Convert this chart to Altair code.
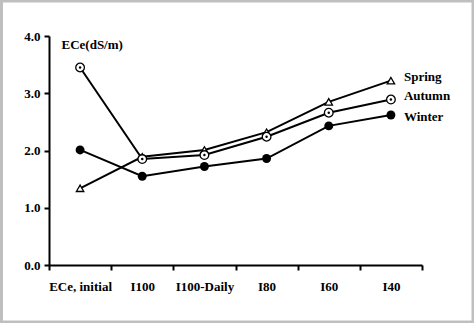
import altair as alt
import pandas as pd

categories = ["ECe, initial", "I100", "I100-Daily", "I80", "I60", "I40"]
spring = [1.34, 1.89, 2.01, 2.32, 2.85, 3.22]
autumn = [3.45, 1.85, 1.92, 2.24, 2.66, 2.89]
winter = [2.01, 1.55, 1.72, 1.86, 2.43, 2.62]
series_names = ["Spring", "Autumn", "Winter"]

rows = []
for name, vals in zip(series_names, [spring, autumn, winter]):
    for c, v in zip(categories, vals):
        rows.append({"cat": c, "val": v, "series": name})
df = pd.DataFrame(rows)

FONT = "Liberation Serif"

x = alt.X("cat:N", sort=categories, title=None,
          scale=alt.Scale(paddingInner=0, paddingOuter=0),
          axis=alt.Axis(tickBand="extent", labelAngle=0, labelFont=FONT, labelFontWeight="bold",
                        labelFontSize=13, labelColor="black", domainColor="black", domainWidth=2,
                        tickColor="black", tickWidth=2, tickSize=5, labelPadding=10))
y = alt.Y("val:Q", scale=alt.Scale(domain=[0, 4]),
          axis=alt.Axis(values=[0, 1, 2, 3, 4], format=".1f", grid=False, title="ECe(dS/m)",
                        titleAngle=0, titleX=12, titleY=2, titleAlign="left", titleBaseline="top",
                        titleFont=FONT, titleFontWeight="bold", titleFontSize=13, titleColor="black",
                        labelFont=FONT, labelFontWeight="bold", labelFontSize=13, labelColor="black",
                        domainColor="black", domainWidth=2, tickColor="black", tickWidth=2,
                        tickSize=5, labelPadding=4))

base = alt.Chart(df)

frame = alt.Chart(pd.DataFrame({"k": [0]})).mark_rect(
    fill=None, stroke="#bfbfbf", strokeWidth=3, clip=False
).encode(x=alt.value(-47.5), x2=alt.value(424), y=alt.value(-35), y2=alt.value(286))

lines = base.mark_line(color="black", strokeWidth=2).encode(x=x, y=y, detail="series:N")

spring_pts = base.transform_filter(alt.datum.series == "Spring").mark_point(
    shape="triangle-up", size=55, filled=True, fill="white", stroke="black", strokeWidth=1.3, opacity=1
).encode(x=x, y=y)
autumn_pts = base.transform_filter(alt.datum.series == "Autumn").mark_point(
    shape="circle", size=75, filled=True, fill="white", stroke="black", strokeWidth=1.3, opacity=1
).encode(x=x, y=y)
autumn_dot = base.transform_filter(alt.datum.series == "Autumn").mark_point(
    shape="circle", size=6, filled=True, color="black", opacity=1
).encode(x=x, y=y)
winter_pts = base.transform_filter(alt.datum.series == "Winter").mark_point(
    shape="circle", size=80, filled=True, color="black", opacity=1
).encode(x=x, y=y)

last = categories[-1]
def label(name, dy):
    return base.transform_filter(
        (alt.datum.series == name) & (alt.datum.cat == last)
    ).mark_text(align="left", dx=13, dy=dy, font=FONT, fontWeight="bold", fontSize=13, color="black").encode(
        x=x, y=y, text="series:N")

chart = alt.layer(
    frame, lines, spring_pts, autumn_pts, autumn_dot, winter_pts,
    label("Spring", -4), label("Autumn", -4), label("Winter", 2)
).properties(
    width=373, height=229,
    autosize=alt.AutoSizeParams(type="none"),
    padding={"left": 49, "top": 36, "right": 52, "bottom": 58},
    background="white"
).configure_view(stroke=None)

chart.save("out.html", embed_options={"renderer": "svg", "actions": False})
